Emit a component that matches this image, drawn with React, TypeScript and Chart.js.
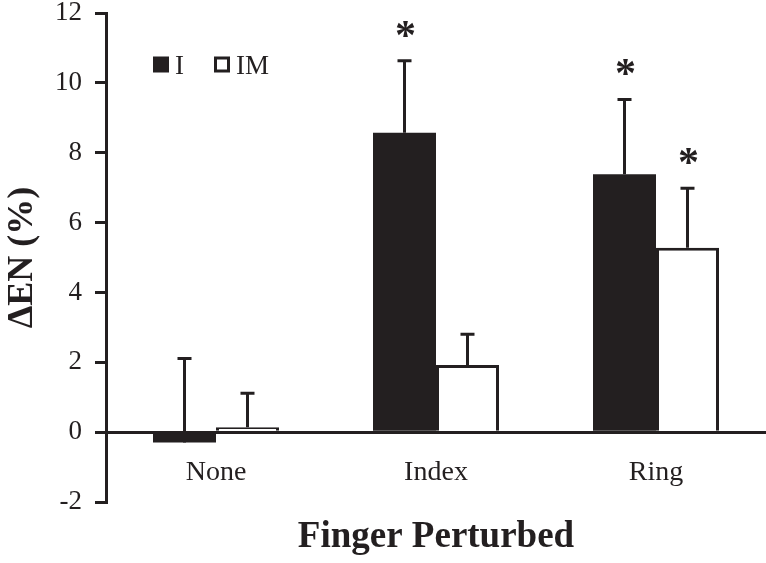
import { useEffect, useRef } from "react";
import { Chart, registerables } from "chart.js";

Chart.register(...registerables);

const categories = ["None", "Index", "Ring"];
const seriesNames = ["I", "IM"];
const valuesI = [-0.3, 8.57, 7.38];
const valuesIM = [0.14, 1.92, 5.28];
const errorsI = [2.41, 2.06, 2.14];
const errorsIM = [0.97, 0.88, 1.7];
const significantI = [false, true, true];
const significantIM = [false, false, true];
const yMin = -2;
const yMax = 12;
const yStep = 2;
const xTitle = "Finger Perturbed";
const yTitle = "ΔEN (%)";

const INK = "#231f20";
const FONT = "'Liberation Serif', 'Times New Roman', serif";

const errorBarPlugin = {
  id: "errorBars",
  afterDatasetsDraw(chart: any) {
    const ctx = chart.ctx;
    const yScale = chart.scales.y;
    chart.data.datasets.forEach((ds: any, di: number) => {
      const meta = chart.getDatasetMeta(di);
      meta.data.forEach((bar: any, i: number) => {
        const v = ds.data[i];
        const e = ds.errors[i];
        const yBase = yScale.getPixelForValue(v);
        const yTop = yScale.getPixelForValue(v + e);
        const x = bar.x;
        ctx.save();
        ctx.strokeStyle = INK;
        ctx.lineWidth = 3;
        ctx.beginPath();
        ctx.moveTo(x, yBase);
        ctx.lineTo(x, yTop);
        ctx.moveTo(x - 7, yTop);
        ctx.lineTo(x + 7, yTop);
        ctx.stroke();
        if (ds.significant[i]) {
          ctx.fillStyle = INK;
          ctx.font = `bold 42px ${FONT}`;
          ctx.textAlign = "center";
          ctx.textBaseline = "middle";
          ctx.fillText("*", x + 1, yTop - 23);
        }
        ctx.restore();
      });
    });
  },
};

const legendPlugin = {
  id: "customLegend",
  afterDraw(chart: any) {
    const ctx = chart.ctx;
    const area = chart.chartArea;
    const x0 = area.left + 47;
    const y0 = area.top + 43.5;
    const offsets = [0, 61];
    ctx.save();
    chart.data.datasets.forEach((ds: any, di: number) => {
      const bx = x0 + offsets[di];
      ctx.fillStyle = ds.backgroundColor;
      ctx.fillRect(bx, y0, 16, 16);
      if (ds.borderWidth > 0) {
        ctx.strokeStyle = ds.borderColor;
        ctx.lineWidth = 3;
        ctx.strokeRect(bx + 1.5, y0 + 1.5, 13, 13);
      }
      ctx.fillStyle = INK;
      ctx.font = `27px ${FONT}`;
      ctx.textAlign = "left";
      ctx.textBaseline = "alphabetic";
      ctx.fillText(ds.label, bx + 22, y0 + 17);
    });
    ctx.restore();
  },
};

export default function App() {
  const canvasRef = useRef<HTMLCanvasElement | null>(null);

  useEffect(() => {
    if (!canvasRef.current) return;
    const chart = new Chart(canvasRef.current, {
      type: "bar",
      data: {
        labels: categories,
        datasets: [
          {
            label: seriesNames[0],
            data: valuesI,
            backgroundColor: INK,
            borderColor: INK,
            borderWidth: 0,
            errors: errorsI,
            significant: significantI,
          } as any,
          {
            label: seriesNames[1],
            data: valuesIM,
            backgroundColor: "#ffffff",
            borderColor: INK,
            borderWidth: 3,
            errors: errorsIM,
            significant: significantIM,
          } as any,
        ],
      },
      options: {
        animation: false,
        responsive: false,
        maintainAspectRatio: false,
        layout: { padding: { top: 13, left: 0, right: 0, bottom: 0 } },
        datasets: {
          bar: { categoryPercentage: 0.5727, barPercentage: 1 },
        },
        plugins: {
          legend: { display: false },
          tooltip: { enabled: false },
        },
        scales: {
          x: {
            type: "category",
            position: { y: 0 } as any,
            grid: { display: false, drawTicks: false },
            border: { display: true, color: INK, width: 3 },
            ticks: {
              color: INK,
              padding: 24,
              font: { family: FONT, size: 28 },
            },
            afterFit(scale: any) {
              scale.height = 0;
              scale.paddingLeft = 0;
              scale.paddingRight = 0;
            },
          },
          x2: {
            type: "category",
            position: "bottom",
            grid: { display: false, drawTicks: false },
            border: { display: false },
            ticks: { display: false },
            title: {
              display: true,
              text: xTitle,
              color: INK,
              font: { family: FONT, size: 37, weight: "bold" },
              padding: { top: 0, bottom: 3 },
            },
            afterFit(scale: any) {
              scale.height = 61;
              scale.paddingLeft = 0;
              scale.paddingRight = 0;
            },
          },
          y: {
            type: "linear",
            min: yMin,
            max: yMax,
            grid: {
              drawOnChartArea: false,
              drawTicks: true,
              tickLength: 11,
              color: INK,
              lineWidth: 3,
            },
            border: { display: true, color: INK, width: 3 },
            ticks: {
              stepSize: yStep,
              color: INK,
              padding: 13,
              font: { family: FONT, size: 27 },
            },
            title: {
              display: true,
              text: yTitle,
              color: INK,
              font: { family: FONT, size: 36, weight: "bold" },
              padding: { top: 1, bottom: 0 },
            },
            afterFit(scale: any) {
              scale.width = 106;
              scale.paddingTop = 0;
              scale.paddingBottom = 0;
            },
          },
        },
      },
      plugins: [errorBarPlugin, legendPlugin],
    });
    return () => chart.destroy();
  }, []);

  return (
    <div style={{ position: "absolute", left: 0, top: 0, width: 766, height: 563, background: "#fff" }}>
      <canvas ref={canvasRef} width={766} height={563} style={{ display: "block" }} />
    </div>
  );
}
